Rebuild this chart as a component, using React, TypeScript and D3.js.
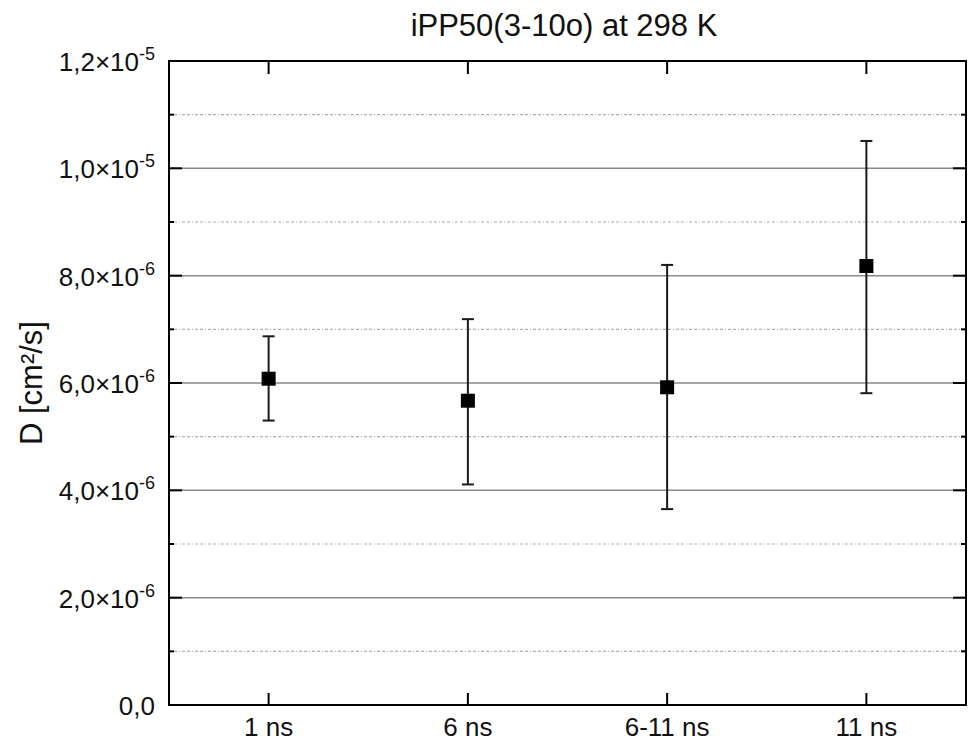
import React from "react";
import * as d3 from "d3";

const categories = ["1 ns", "6 ns", "6-11 ns", "11 ns"];
const means = [6.08e-6, 5.67e-6, 5.92e-6, 8.18e-6];
const lows = [5.3e-6, 4.11e-6, 3.65e-6, 5.81e-6];
const highs = [6.87e-6, 7.19e-6, 8.2e-6, 10.51e-6];

const majorTicks = [0, 2e-6, 4e-6, 6e-6, 8e-6, 1e-5, 1.2e-5];
const minorTicks = [1e-6, 3e-6, 5e-6, 7e-6, 9e-6, 1.1e-5];
const tickMantissa = ["0,0", "2,0", "4,0", "6,0", "8,0", "1,0", "1,2"];
const tickExp = ["", "-6", "-6", "-6", "-6", "-5", "-5"];

const W = 968;
const H = 743;
const left = 169, right = 966, top = 61, bottom = 705;
const font = "Arial, 'Liberation Sans', sans-serif";

export default function App() {
  const x = d3.scaleBand().domain(categories).range([left, right]);
  const cx = (c: string) => (x(c) as number) + x.bandwidth() / 2;
  const y = d3.scaleLinear().domain([0, 1.2e-5]).range([bottom, top]);

  return (
    <svg
      width={W}
      height={H}
      style={{ position: "absolute", left: 0, top: 0, background: "#fff" }}
      fontFamily={font}
    >
      {/* minor grid */}
      {minorTicks.map((t) => (
        <g key={"mi" + t}>
          <line x1={left} x2={right} y1={y(t)} y2={y(t)} stroke="#b0b0b0" strokeWidth={1.2} strokeDasharray="3,2,3,2,1,2" />
          <line x1={left} x2={left + 5} y1={y(t)} y2={y(t)} stroke="#000" strokeWidth={2} />
          <line x1={right - 5} x2={right} y1={y(t)} y2={y(t)} stroke="#000" strokeWidth={2} />
        </g>
      ))}
      {/* major grid + ticks */}
      {majorTicks.map((t, i) => (
        <g key={"ma" + t}>
          {i > 0 && i < majorTicks.length - 1 && (
            <line x1={left} x2={right} y1={y(t)} y2={y(t)} stroke="#8a8a8a" strokeWidth={1.5} />
          )}
          <line x1={left} x2={left + 13} y1={y(t)} y2={y(t)} stroke="#000" strokeWidth={2} />
          <line x1={right - 13} x2={right} y1={y(t)} y2={y(t)} stroke="#000" strokeWidth={2} />
          <text x={155} y={y(t) + 10} textAnchor="end" fontSize={26} fill="#111">
            {tickMantissa[i]}
            {tickExp[i] && (
              <>
                {"×10"}
                <tspan fontSize={18} dy={-11}>{tickExp[i]}</tspan>
              </>
            )}
          </text>
        </g>
      ))}
      {/* x ticks */}
      {categories.map((c) => (
        <g key={"x" + c}>
          <line x1={cx(c)} x2={cx(c)} y1={bottom} y2={bottom - 12} stroke="#000" strokeWidth={2} />
          <line x1={cx(c)} x2={cx(c)} y1={top} y2={top + 13} stroke="#000" strokeWidth={2} />
          <text x={cx(c)} y={736} textAnchor="middle" fontSize={26} fill="#111">{c}</text>
        </g>
      ))}
      {/* error bars */}
      {categories.map((c, i) => (
        <g key={"e" + c} stroke="#1a1a1a" strokeWidth={2}>
          <line x1={cx(c)} x2={cx(c)} y1={y(lows[i])} y2={y(highs[i])} />
          <line x1={cx(c) - 6} x2={cx(c) + 6} y1={y(lows[i])} y2={y(lows[i])} />
          <line x1={cx(c) - 6} x2={cx(c) + 6} y1={y(highs[i])} y2={y(highs[i])} />
        </g>
      ))}
      {/* points */}
      {categories.map((c, i) => (
        <rect key={"p" + c} x={cx(c) - 7} y={y(means[i]) - 7} width={14} height={14} fill="#000" />
      ))}
      {/* frame */}
      <rect x={left} y={top} width={right - left} height={bottom - top} fill="none" stroke="#000" strokeWidth={2} />
      {/* title */}
      <text x={564} y={36} textAnchor="middle" fontSize={31} fill="#111">iPP50(3-10o) at 298 K</text>
      {/* y label */}
      <text transform="translate(42,383) rotate(-90)" textAnchor="middle" fontSize={31} fill="#111">D [cm²/s]</text>
    </svg>
  );
}
